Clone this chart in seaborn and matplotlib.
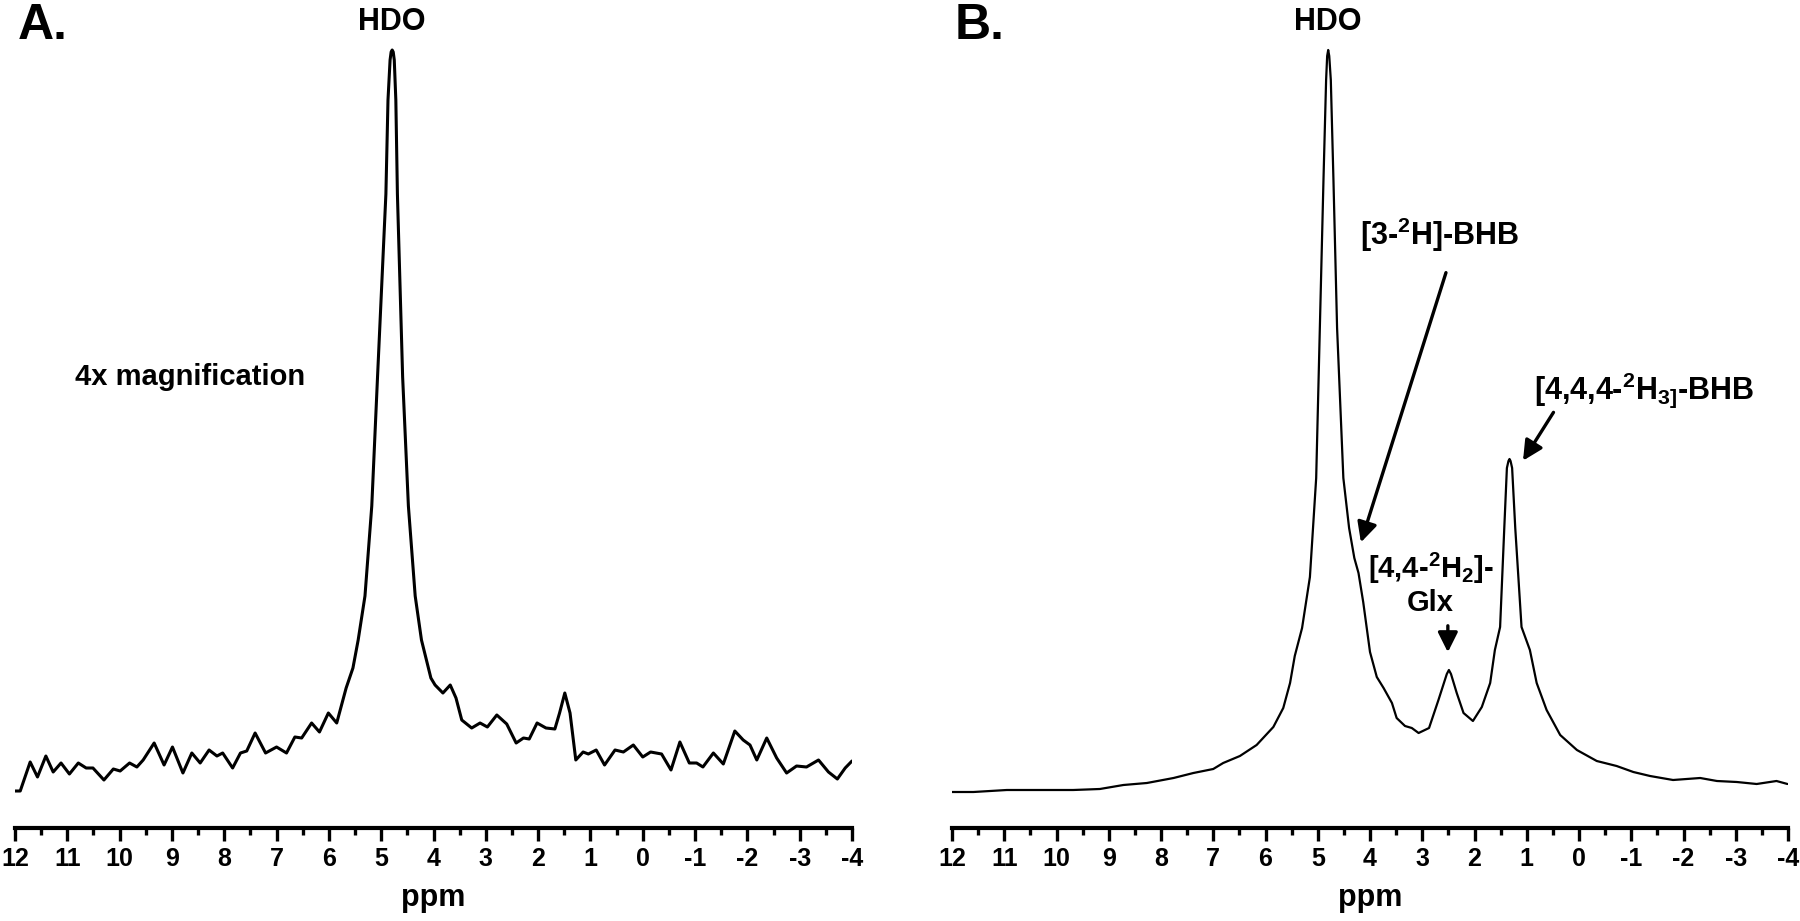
import numpy as np
import matplotlib
matplotlib.use("Agg")
import matplotlib.pyplot as plt
import seaborn as sns

# panel A: 4x magnified spectrum (ppm, intensity a.u.)
ppm_a = [12.00, 11.90, 11.71, 11.57, 11.41, 11.27, 11.12, 10.96, 10.79, 10.64,
         10.51, 10.30, 10.12, 9.99, 9.81, 9.67, 9.55, 9.34, 9.15, 8.99,
         8.79, 8.62, 8.46, 8.29, 8.14, 8.03, 7.84, 7.69, 7.57, 7.41,
         7.21, 7.00, 6.81, 6.65, 6.52, 6.33, 6.18, 6.01, 5.85, 5.67,
         5.54, 5.44, 5.31, 5.18, 5.07, 4.91, 4.87, 4.83, 4.81, 4.79, 4.77, 4.75,
         4.72, 4.69, 4.59, 4.48, 4.35, 4.23, 4.05, 3.97, 3.82, 3.68,
         3.57, 3.46, 3.27, 3.11, 2.97, 2.79, 2.60, 2.42, 2.28, 2.17,
         2.02, 1.85, 1.68, 1.59, 1.49, 1.39, 1.28, 1.14, 1.04, 0.89,
         0.73, 0.53, 0.37, 0.18, 0.00, -0.15, -0.36, -0.54, -0.71, -0.89,
         -1.03, -1.15, -1.35, -1.54, -1.76, -1.92, -2.05, -2.18, -2.37, -2.56,
         -2.75, -2.94, -3.13, -3.36, -3.55, -3.72, -3.87, -4.00]
int_a = [37, 37, 66, 51, 72, 56, 65, 54, 65, 60,
         60, 48, 59, 57, 65, 61, 68, 85, 63, 81,
         55, 75, 65, 78, 72, 75, 60, 75, 77, 95,
         75, 81, 75, 91, 90, 105, 96, 115, 105, 140,
         160, 188, 232, 322, 451, 634, 728, 768, 776, 778, 776, 768,
         728, 634, 451, 322, 232, 188, 150, 143, 135, 143,
         130, 108, 100, 105, 101, 113, 104, 85, 90, 89,
         105, 100, 99, 115, 135, 115, 68, 76, 74, 78,
         63, 78, 76, 83, 71, 76, 74, 58, 86, 65,
         65, 61, 75, 64, 97, 88, 83, 68, 90, 70,
         55, 62, 61, 68, 56, 49, 60, 67]

# panel B: full spectrum
ppm_b = [12.00, 11.59, 10.95, 10.32, 9.68, 9.17, 8.72, 8.27, 7.76, 7.38,
         7.00, 6.81, 6.49, 6.17, 5.85, 5.66, 5.53, 5.44, 5.30, 5.15,
         5.03, 4.96, 4.89, 4.84, 4.82, 4.80, 4.78, 4.75, 4.70, 4.63, 4.51, 4.40,
         4.30, 4.22, 4.13, 4.00, 3.87, 3.74, 3.58, 3.49, 3.33, 3.20,
         3.07, 2.87, 2.69, 2.53, 2.49, 2.45, 2.34, 2.21, 2.03, 1.86, 1.70, 1.61,
         1.51, 1.43, 1.38, 1.35, 1.33, 1.31, 1.28, 1.22, 1.10, 0.94, 0.81, 0.62,
         0.36, 0.04, -0.34, -0.72, -1.04, -1.36, -1.80, -2.32, -2.64, -3.02,
         -3.40, -3.78, -3.99]
int_b = [36, 36, 38, 38, 38, 39, 43, 45, 50, 55,
         59, 65, 72, 83, 101, 120, 145, 172, 200, 251,
         350, 500, 649, 748, 772, 778, 772, 748, 649, 500, 350, 300,
         270, 255, 226, 176, 151, 140, 125, 110, 102, 100,
         95, 100, 128, 154, 158, 154, 135, 115, 107, 121, 145, 178,
         201, 300, 360, 367, 369, 367, 360, 300, 201, 178, 145, 118,
         93, 78, 67, 62, 56, 52, 48, 50, 47, 46,
         44, 47, 44]

tick_vals = [12, 11, 10, 9, 8, 7, 6, 5, 4, 3, 2, 1, 0, -1, -2, -3, -4]
tick_labels = [str(v) for v in tick_vals]

sns.set_style("ticks")
plt.rcParams["font.family"] = ["Liberation Sans", "DejaVu Sans"]
plt.rcParams["font.weight"] = "bold"
plt.rcParams["text.color"] = "black"
plt.rcParams["axes.labelcolor"] = "black"
plt.rcParams["axes.edgecolor"] = "black"
plt.rcParams["xtick.color"] = "black"
plt.rcParams["axes.unicode_minus"] = False
plt.rcParams["mathtext.fontset"] = "custom"
plt.rcParams["mathtext.rm"] = "Liberation Sans:bold"
plt.rcParams["mathtext.it"] = "Liberation Sans:bold"
plt.rcParams["mathtext.bf"] = "Liberation Sans:bold"
plt.rcParams["mathtext.default"] = "rm"

fig = plt.figure(figsize=(18, 9.21), dpi=100)
ax_a = fig.add_axes([15 / 1800, 93 / 921, 837 / 1800, 788 / 921])
ax_b = fig.add_axes([952 / 1800, 93 / 921, 836 / 1800, 788 / 921])


def style_axis(ax):
    ax.set_xlim(12, -4)
    ax.set_ylim(0, 788)
    for s in ["left", "top", "right"]:
        ax.spines[s].set_visible(False)
    ax.spines["bottom"].set_linewidth(3)
    ax.spines["bottom"].set_color("black")
    ax.set_yticks([])
    ax.set_ylabel("")
    ax.set_xticks(tick_vals)
    ax.set_xticklabels(tick_labels, fontsize=18, fontweight="bold", color="black")
    ax.set_xticks(np.arange(11.5, -4, -1), minor=True)
    ax.tick_params(axis="x", which="major", direction="out", length=9, width=2.4, pad=5, color="black")
    ax.tick_params(axis="x", which="minor", direction="out", length=5, width=2.4, color="black")
    ax.set_xlabel("ppm", fontsize=22, fontweight="bold", labelpad=8, color="black")
    ax.patch.set_visible(False)


line_kw = dict(color="black", sort=False, solid_joinstyle="round", solid_capstyle="round")
sns.lineplot(x=ppm_a, y=int_a, ax=ax_a, linewidth=2.2, **line_kw)
sns.lineplot(x=ppm_b, y=int_b, ax=ax_b, linewidth=1.6, **line_kw)
style_axis(ax_a)
style_axis(ax_b)

# labels
ax_a.text(4.8, 806, "HDO", ha="center", va="center", fontsize=22, fontweight="bold")
ax_a.text(10.85, 451, "4x magnification", ha="left", va="center", fontsize=21, fontweight="bold")
ax_b.text(4.8, 806, "HDO", ha="center", va="center", fontsize=22, fontweight="bold")

arrow_kw = dict(arrowstyle="-|>", color="black", lw=2.4, mutation_scale=30)
ax_b.text(2.66, 593, "[3-$^{2}$H]-BHB", ha="center", va="center", fontsize=22, fontweight="bold")
ax_b.annotate("", xy=(4.19, 283), xytext=(2.53, 558), arrowprops=arrow_kw)

ax_b.text(-1.24, 438, "[4,4,4-$^{2}$H$_{3]}$-BHB", ha="center", va="center", fontsize=22, fontweight="bold")
ax_b.annotate("", xy=(1.10, 365), xytext=(0.46, 418), arrowprops=arrow_kw)

ax_b.text(2.83, 260, "[4,4-$^{2}$H$_{2}$]-", ha="center", va="center", fontsize=21, fontweight="bold")
ax_b.text(2.85, 225, "Glx", ha="center", va="center", fontsize=21, fontweight="bold")
ax_b.annotate("", xy=(2.51, 173), xytext=(2.51, 205), arrowprops=arrow_kw)

fig.text(18 / 1800, 1 - 26 / 921, "A.", ha="left", va="center", fontsize=36, fontweight="bold")
fig.text(955 / 1800, 1 - 26 / 921, "B.", ha="left", va="center", fontsize=36, fontweight="bold")

fig.savefig("out.png", dpi=100)
